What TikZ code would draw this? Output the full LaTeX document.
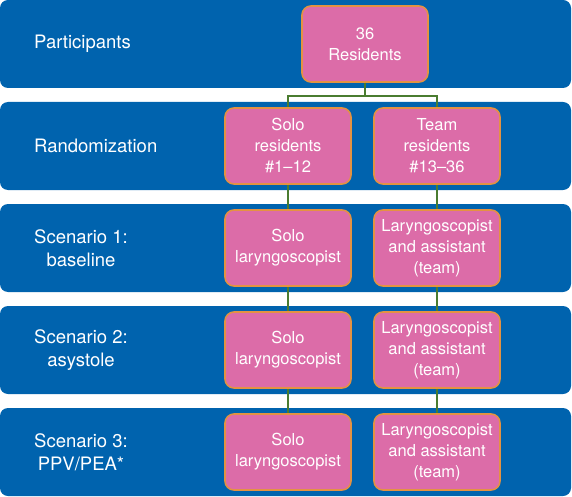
\documentclass[tikz,border=0pt]{standalone}
\usepackage{fontspec}
\setmainfont{TeX Gyre Heros}
\definecolor{bandblue}{RGB}{0,99,174}
\definecolor{boxpink}{RGB}{220,108,168}
\definecolor{boxedge}{RGB}{228,146,66}
\definecolor{linkgreen}{RGB}{74,124,48}
\tikzset{
  band/.style={fill=bandblue, draw=none, rounded corners=8pt, minimum width=571pt, minimum height=88pt, inner sep=0pt},
  lab/.style={text=white, anchor=west, align=center, font=\fontsize{18.5}{23}\selectfont, inner sep=0pt},
  pbox/.style={fill=boxpink, draw=boxedge, line width=1.6pt, rounded corners=9pt, minimum width=126pt, minimum height=76pt, inner sep=2pt, align=center, text=white, font=\fontsize{16.5}{21}\selectfont},
  link/.style={draw=linkgreen, line width=2pt}
}
\begin{document}
\begin{tikzpicture}[x=1pt,y=-1pt]
\useasboundingbox (0,0) rectangle (572,497);
% bands
\node[band] (b0) at (285.5,44) {};
\node[band] (b1) at (285.5,146) {};
\node[band] (b2) at (285.5,248) {};
\node[band] (b3) at (285.5,350) {};
\node[band] (b4) at (285.5,452) {};
% labels
\node[lab] (l0) at (34,44) {Participants};
\node[lab] (l1) at (34,146) {Randomization};
\node[lab] (l2) at (34,248) {Scenario 1:\\baseline};
\node[lab] (l3) at (34,350) {Scenario 2:\\asystole};
\node[lab] (l4) at (34,452) {Scenario 3:\\PPV/PEA*};
% boxes
\node[pbox] (res) at (365,44) {36\\Residents};
\node[pbox] (s0) at (288,146) {Solo\\residents\\\#1--12};
\node[pbox] (t0) at (437,146) {Team\\residents\\\#13--36};
\node[pbox] (s1) at (288,248) {Solo\\laryngoscopist};
\node[pbox] (t1) at (437,248) {Laryngoscopist\\and assistant\\(team)};
\node[pbox] (s2) at (288,350) {Solo\\laryngoscopist};
\node[pbox] (t2) at (437,350) {Laryngoscopist\\and assistant\\(team)};
\node[pbox] (s3) at (288,452) {Solo\\laryngoscopist};
\node[pbox] (t3) at (437,452) {Laryngoscopist\\and assistant\\(team)};
% connectors
\draw[link] (res.south) -- ++(0,13) -| (s0.north);
\draw[link] (res.south) -- ++(0,13) -| (t0.north);
\draw[link] (s0.south) -- (s1.north);
\draw[link] (s1.south) -- (s2.north);
\draw[link] (s2.south) -- (s3.north);
\draw[link] (t0.south) -- (t1.north);
\draw[link] (t1.south) -- (t2.north);
\draw[link] (t2.south) -- (t3.north);
\end{tikzpicture}
\end{document}
